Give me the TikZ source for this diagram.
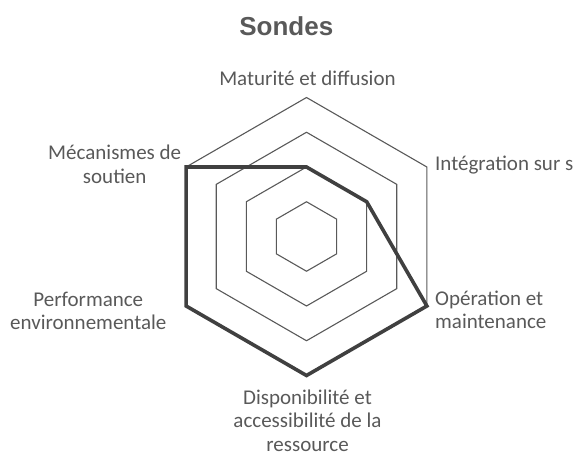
\documentclass[tikz,border=0pt]{standalone}
\usepackage{fontspec}
\setmainfont{Carlito}
\newfontfamily\titlefont{Liberation Sans}
\usepackage{tikz}
\definecolor{gridgray}{HTML}{595959}
\definecolor{datagray}{HTML}{404040}
\definecolor{labelgray}{HTML}{595959}

\begin{document}
\begin{tikzpicture}[x=1pt,y=1pt,
  gridline/.style={draw=gridgray,line width=1.1pt},
  dataline/.style={draw=datagray,line width=3.6pt},
  axislabel/.style={text=labelgray,inner sep=0pt,anchor=base,align=center,font=\fontsize{21}{23.8}\selectfont}]
\useasboundingbox (0,0) rectangle (574,456);

\node[text=labelgray,inner sep=0pt,anchor=base,font=\titlefont\bfseries\fontsize{26}{30}\selectfont] (title) at (286.3,420.3) {Sondes};

\begin{scope}[shift={(306.5,219.5)}]
\foreach \r in {1,2,3,4}
  \draw[gridline] (90:\r*34.75pt) -- (30:\r*34.75pt) -- (-30:\r*34.75pt) -- (-90:\r*34.75pt) -- (210:\r*34.75pt) -- (150:\r*34.75pt) -- cycle;

\foreach \a/\v [count=\i] in {90/2,30/2,-30/4,-90/4,210/4,150/4}
  \coordinate (d\i) at (\a:\v*34.75pt);
\draw[dataline] (d1) -- (d2) -- (d3) -- (d4) -- (d5) -- (d6) -- cycle;
\end{scope}

\node[axislabel] (maturite) at (307.5,370) {Maturité et diffusion};
\node[axislabel,anchor=base west,align=left] (integration) at (435,285.3) {Intégration sur s};
\node[axislabel,anchor=base west,align=left] (operation) at (435,127) {Opération et\\maintenance};
\node[axislabel] (disponibilite) at (307.5,4.3) {Disponibilité et\\accessibilité de la\\ressource};
\node[axislabel] (performance) at (88.3,126) {Performance\\environnementale};
\node[axislabel] (mecanismes) at (114.7,272.7) {Mécanismes de\\soutien};
\end{tikzpicture}
\end{document}
